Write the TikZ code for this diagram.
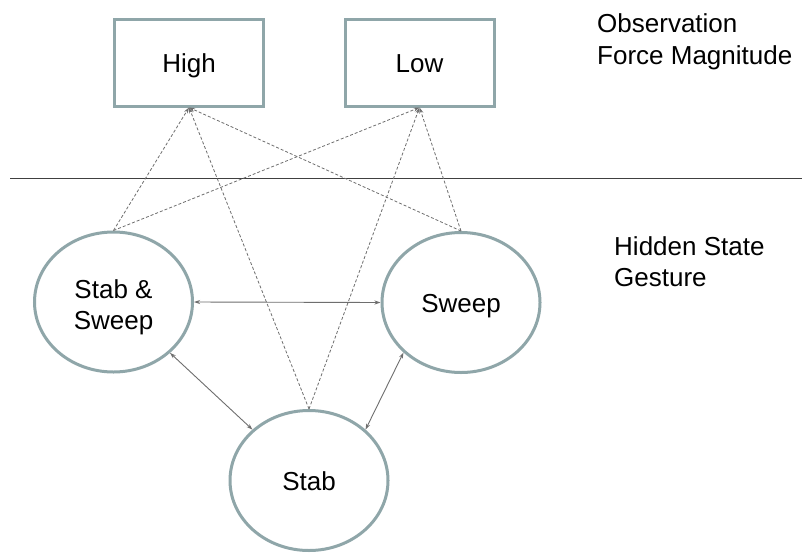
\documentclass[tikz,border=0pt]{standalone}
\usepackage{fontspec}
\setmainfont{Liberation Sans}
\usetikzlibrary{shapes.geometric,arrows.meta}
\definecolor{bord}{HTML}{8FA6A9}
\definecolor{dline}{HTML}{6E6E6E}
\begin{document}
\begin{tikzpicture}[x=1pt,y=-1pt,
  obsbox/.style={draw=bord,line width=3pt,minimum width=149pt,minimum height=87pt,inner sep=0pt,text height=19pt,text depth=0pt,font=\fontsize{26}{33}\selectfont},
  hstate/.style={draw=bord,line width=3pt,ellipse,inner sep=0pt,minimum width=158pt,minimum height=140pt,font=\fontsize{26}{33}\selectfont,align=center},
  emis/.style={draw=dline,line width=0.8pt,dash pattern=on 3pt off 2pt,-{Stealth[length=6pt,width=4pt]}},
  trans/.style={draw=dline,line width=0.9pt,{Stealth[length=6pt,width=4pt]}-{Stealth[length=6pt,width=4pt]}},
  lbl/.style={anchor=base west,inner sep=0pt,font=\fontsize{26}{33}\selectfont}]
\useasboundingbox[fill=white] (0,0) rectangle (802,554);
\node[obsbox] (high) at (189,62.5) {High};
\node[obsbox] (low) at (419.5,62.5) {Low};
\node[hstate] (ss) at (113.5,302) {};
\node[anchor=base,inner sep=0pt,align=center,font=\fontsize{26}{33}\selectfont] (sstxt) at (113.5,329) {Stab \&\\[-2pt]Sweep};
\node[hstate,text height=19pt,text depth=0pt] (sw) at (461,302.5) {Sweep};
\node[hstate,text height=19pt,text depth=0pt] (st) at (309,480.5) {Stab};
\coordinate (la) at (10,178);
\coordinate (lb) at (802,178);
\draw[line width=1pt,black!75] (la) -- (lb);
\node[lbl] (t1) at (597,32) {Observation};
\node[lbl] (t2) at (597,64) {Force Magnitude};
\node[lbl] (t3) at (614,255) {Hidden State};
\node[lbl] (t4) at (614,286) {Gesture};
\draw[emis] (ss.north) -- (high.south);
\draw[emis] (ss.north) -- (low.south);
\draw[emis] (sw.north) -- (high.south);
\draw[emis] (sw.north) -- (low.south);
\draw[emis] (st.north) -- (high.south);
\draw[emis] (st.north) -- (low.south);
\draw[trans] (ss.east) -- (sw.west);
\draw[trans] (ss.-42) -- (st.138);
\draw[trans] (sw.-139) -- (st.42);
\end{tikzpicture}
\end{document}
